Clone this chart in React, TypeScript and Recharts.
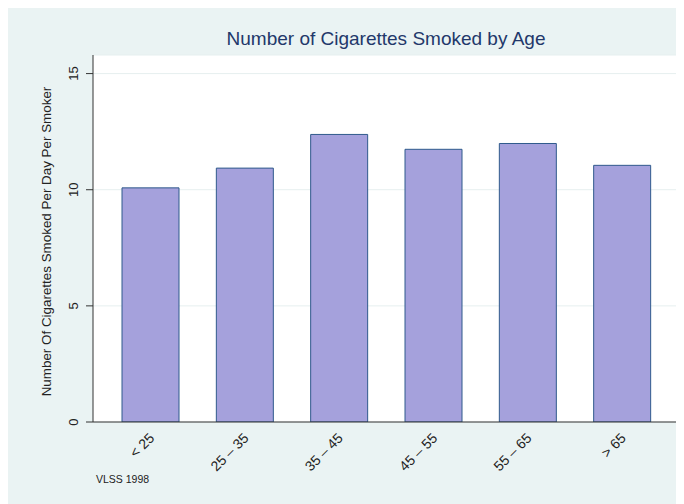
import React from 'react';
import { BarChart, Bar, XAxis, YAxis, CartesianGrid } from 'recharts';

const ageGroups = ['< 25', '25 – 35', '35 – 45', '45 – 55', '55 – 65', '> 65'];
const cigarettesPerDay = [10.08, 10.93, 12.38, 11.74, 11.99, 11.05];
const yTicks = [0, 5, 10, 15];

const data = ageGroups.map((age, i) => ({ age, value: cigarettesPerDay[i] }));

const FONT = 'Arial, "Liberation Sans", Helvetica, sans-serif';

function YTick({ x, y, payload }: any) {
  return (
    <text
      x={x}
      y={y}
      transform={`rotate(-90, ${x}, ${y})`}
      textAnchor="middle"
      fontSize={13}
      fontFamily={FONT}
      fill="#222"
    >
      {payload.value}
    </text>
  );
}

function XTick({ x, y, payload }: any) {
  const ax = x + 5;
  const ay = y + 9;
  return (
    <text
      x={ax}
      y={ay}
      transform={`rotate(-45, ${ax}, ${ay})`}
      textAnchor="end"
      fontSize={14}
      fontFamily={FONT}
      fill="#222"
    >
      {payload.value}
    </text>
  );
}

function YLabel({ viewBox }: any) {
  const cx = 38;
  const cy = viewBox ? viewBox.y + viewBox.height / 2 + 3 : 234;
  return (
    <text
      x={cx + 5}
      y={cy}
      transform={`rotate(-90, ${cx + 5}, ${cy})`}
      textAnchor="middle"
      fontSize={13.4}
      fontFamily={FONT}
      fill="#222"
    >
      Number Of Cigarettes Smoked Per Day Per Smoker
    </text>
  );
}

export default function App() {
  return (
    <div style={{ position: 'relative', width: 676, height: 496, background: '#eaf3f3', fontFamily: FONT }}>
      <div
        style={{
          position: 'absolute',
          left: 85,
          width: 586,
          top: 20,
          textAlign: 'center',
          fontSize: 19,
          color: '#22386a',
          lineHeight: '22px',
        }}
      >
        Number of Cigarettes Smoked by Age
      </div>
      <BarChart
        width={676}
        height={496}
        data={data}
        margin={{ top: 47, right: 5, left: 0, bottom: 0 }}
      >
        <CartesianGrid vertical={false} stroke="#e6efef" fill="#ffffff" />
        <XAxis
          dataKey="age"
          height={82}
          tickLine={false}
          axisLine={{ stroke: '#333' }}
          tick={<XTick />}
          padding={{ left: 10, right: 10 }}
          interval={0}
        />
        <YAxis
          width={85}
          domain={[0, 15.8]}
          ticks={yTicks}
          tickSize={7}
          tickMargin={8}
          tickLine={{ stroke: '#333' }}
          axisLine={{ stroke: '#333' }}
          tick={<YTick />}
          label={<YLabel />}
          allowDataOverflow
        />
        <Bar
          dataKey="value"
          fill="#a5a1dc"
          stroke="#2f5a8c"
          strokeWidth={1}
          barSize={57}
          isAnimationActive={false}
        />
      </BarChart>
      <div
        style={{
          position: 'absolute',
          left: 88,
          top: 465,
          fontSize: 10.5,
          color: '#222',
        }}
      >
        VLSS 1998
      </div>
    </div>
  );
}
